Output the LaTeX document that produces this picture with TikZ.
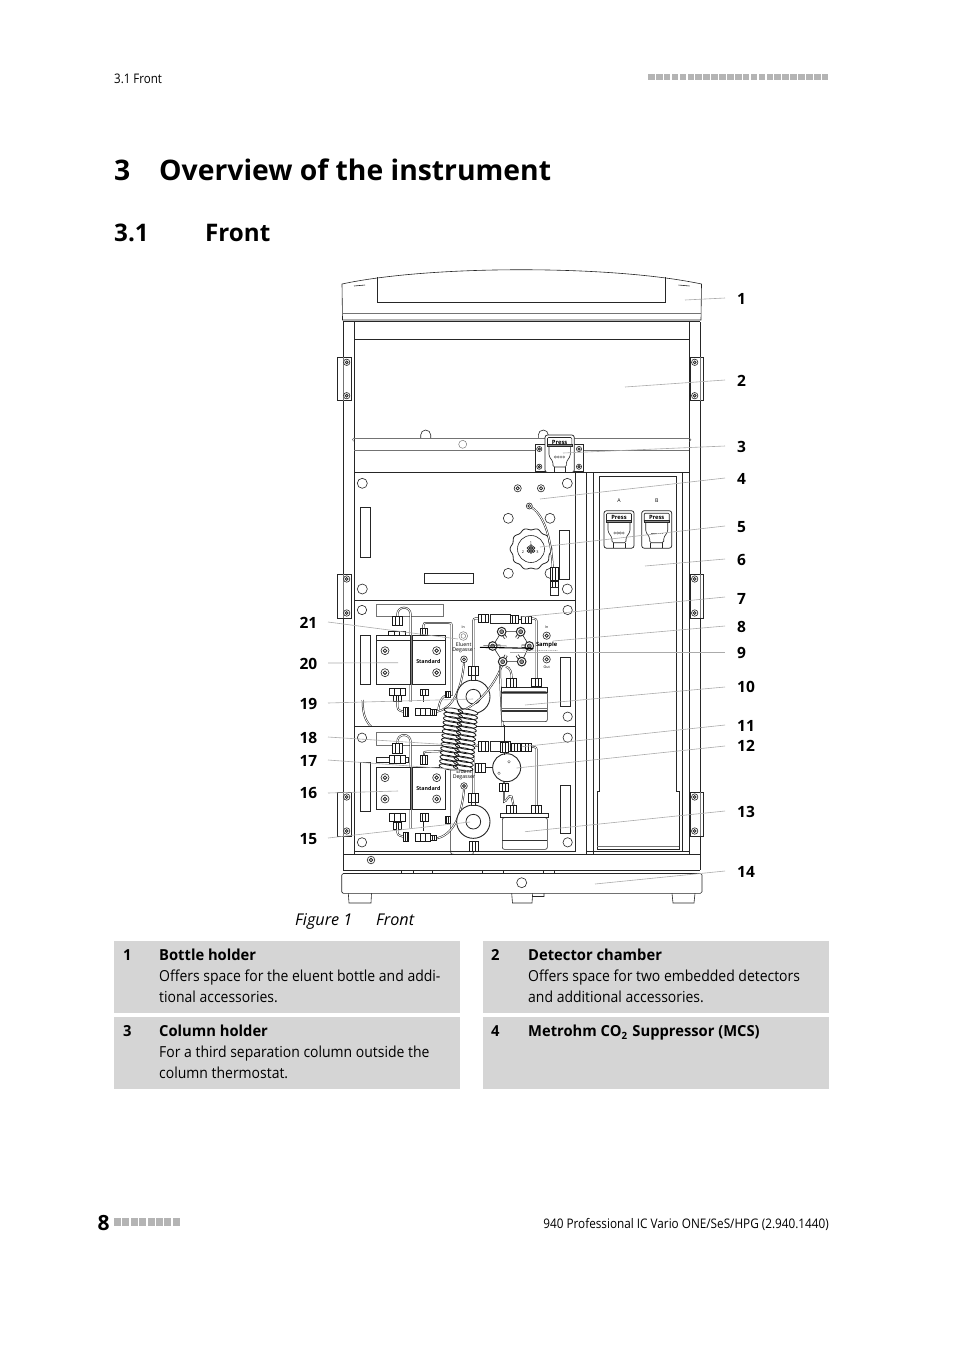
\documentclass[tikz,border=0pt]{standalone}
\usepackage{fontspec}
\setmainfont{Open Sans}
\newfontfamily\narrowf[FakeStretch=0.875]{Open Sans}
\newfontfamily\footf[FakeStretch=0.89]{Open Sans}
\newfontfamily\bodyf[FakeStretch=0.92]{Open Sans}
\newfontfamily\headf[FakeStretch=0.97]{Open Sans}
\usetikzlibrary{calc}
\definecolor{boxgray}{HTML}{D5D5D5}
\definecolor{sqgray}{HTML}{B4B4B4}
\definecolor{leadgray}{HTML}{ABABAB}
\tikzset{
  ln/.style={draw=black!85,line width=.6pt},
  thin ln/.style={draw=black!55,line width=.45pt},
  wln/.style={draw=black!85,line width=.6pt,fill=white},
  tube/.style={draw=black!90,line width=.5pt,double=white,double distance=.9pt},
  fitting/.style={draw=black!90,line width=.7pt,fill=white},
  leader/.style={draw=leadgray,line width=.6pt},
  txt/.style={inner sep=0pt,anchor=base west,text=black},
  callout/.style={inner sep=0pt,anchor=base west,font=\fontsize{15.5}{18}\selectfont\bfseries},
  calloutl/.style={inner sep=0pt,anchor=base east,font=\fontsize{15.5}{18}\selectfont\bfseries},
  tiny lbl/.style={inner sep=0pt,font=\fontsize{5.2}{6}\selectfont},
  tiny blbl/.style={inner sep=0pt,font=\fontsize{5.8}{6}\selectfont\bfseries},
}
\newcommand\ftg[4]{\draw[fitting] (#1,#2) rectangle (#3,#4)
  ($(#1,#2)!.33!(#3,#2)$) -- ($(#1,#4)!.33!(#3,#4)$)
  ($(#1,#2)!.67!(#3,#2)$) -- ($(#1,#4)!.67!(#3,#4)$);}
\newcommand\scw[3]{\draw[wln] (#1,#2) circle (#3); \draw[wln,line width=.8pt] (#1,#2) circle (#3*.45);}
\newcommand\hle[1]{\draw[wln] #1 circle (14);}
\newcommand\lead[5]{% id, start x,y, end x,y
  \coordinate (s#1) at (#2,#3); \coordinate (e#1) at (#4,#5); \draw[leader] (s#1) -- (e#1);}
\newcommand\pressbox[3]{% x y w
  \draw[wln,line width=.75pt,rounded corners=2.5pt] (#1,#2) rectangle ++(#3,37.5);
  \draw[ln,rounded corners=1pt] (#1+2.5,#2+2.5) rectangle ++(#3-5,9);
  \draw[ln,fill=black!45] (#1+2.5,#2+9.5) rectangle ++(#3-5,2);
  \draw[ln,rounded corners=1.5pt] (#1+4,#2+12) -- (#1+4,#2+21) -- (#1+8,#2+27) -- (#1+8,#2+32) -- (#1+#3-8,#2+32) -- (#1+#3-8,#2+27) -- (#1+#3-4,#2+21) -- (#1+#3-4,#2+12);
  \draw[ln] (#1+9,#2+32) -- (#1+9,#2+37.5) (#1+#3-9,#2+32) -- (#1+#3-9,#2+37.5);}
\newcommand\pressdots[2]{\foreach \d in {-4.2,-1.4,1.4,4.2} \draw[thin ln] (#1+\d,#2) circle (1.1);}
\begin{document}
\begin{tikzpicture}[x=1pt,y=-1pt]
\useasboundingbox (0,0) rectangle (954,1350);
\fill[white] (0,0) rectangle (954,1350);

% ---------- page furniture
\node[txt,font=\narrowf\fontsize{13.2}{15}\selectfont] (hdr) at (114,83) {3.1 Front};
\foreach \i in {0,...,22} \fill[sqgray] (648+\i*7.9,73.5) rectangle ++(6.6,6.4);
\node[txt,font=\fontsize{28.3}{34}\selectfont\bfseries] (ttlnum) at (114,180) {3};
\node[txt,font=\fontsize{28.3}{34}\selectfont\bfseries] (ttl) at (159,180) {Overview of the instrument};
\node[txt,font=\fontsize{24.2}{28}\selectfont\bfseries] (secnum) at (114,241) {3.1};
\node[txt,font=\fontsize{24.2}{28}\selectfont\bfseries] (sec) at (205,241) {Front};

% ---------- bottle holder
\draw[wln] (342,284) .. controls (430,265) and (612,265) .. (701.5,284) -- (701,320) -- (342.5,320) -- cycle;
\draw[ln] (377.7,277) -- (377.7,302.3) -- (665.7,302.3) -- (665.7,277);
\draw[thin ln] (342.5,313) -- (701,313);
\draw[ln] (354,286) -- (365,285) (678.5,285) -- (689.5,286);
\draw[ln,line width=1pt] (343,321) -- (700,321);

% ---------- cabinet
\draw[ln] (343.3,322) -- (343.3,870) (354,322) -- (354,854) (689.3,322) -- (689.3,854) (700,322) -- (700,870);
\draw[ln] (354,339) -- (689.3,339);
\draw[ln] (420.7,438) -- (420.7,435) arc (180:360:5) -- (430.7,438);
\draw[ln] (538.3,438) -- (538.3,435) arc (180:360:5) -- (548.3,438);
\draw[thin ln] (354,438) -- (689.3,438) (354,450) -- (689.3,450);
\draw[ln] (354,472.7) -- (689.3,472.7);
\draw[thin ln] (462.7,444.3) circle (4);
\draw[thin ln] (354,438) arc (270:90:1.7) (689.3,438) arc (270:450:1.7);

% hinges
\foreach \yt/\yb in {357.3/400.7,574/618,792/836}{
  \draw[wln] (337.3,\yt) rectangle (351.7,\yb);
  \draw[thin ln] (343.3,\yt) -- (343.3,\yb);
  \draw[wln] (690.7,\yt) rectangle (703,\yb);
  \draw[thin ln] (700,\yt) -- (700,\yb);
  \scw{346.7}{\yt+5}{3.2}
  \scw{346.7}{\yb-5}{3.2}
  \scw{694.7}{\yt+5}{3.2}
  \scw{694.7}{\yb-5}{3.2}
}

% column holder
\draw[wln] (535,444) rectangle (583.3,471.7);
\scw{539.3}{449}{2.6}\scw{539.3}{466.7}{2.6}\scw{579}{449}{2.6}\scw{579}{466.7}{2.6}
\pressbox{545}{435}{29.3}
\node[tiny blbl] (press0) at (559.6,442) {Press};
\pressdots{559.6}{457}

% ---------- right chamber
\draw[ln] (586.7,472.7) -- (586.7,854) (593.3,472.7) -- (593.3,854);
\draw[ln] (599.3,476.7) -- (599.3,791.7) -- (597.3,791.7) -- (597.3,849) -- (679,849) -- (679,791.7) -- (676.7,791.7) -- (676.7,476.7) -- cycle;
\draw[ln] (682.3,472.7) -- (682.3,852);
\draw[thin ln] (597.3,846) -- (679,846);
\draw[ln] (586.7,851.7) -- (689.3,851.7);
\node[tiny lbl] (lblA) at (619,500.7) {A};
\node[tiny lbl] (lblB) at (656.7,500.7) {B};
\pressbox{604}{510.7}{30}
\node[tiny blbl] (pressA) at (619,517.7) {Press};
\pressdots{619}{533}
\pressbox{641.7}{510.7}{30}
\node[tiny blbl] (pressB) at (656.7,517.7) {Press};
\draw[thin ln,dash pattern=on 1.5pt off .7pt] (651,533) -- (663,533);

% ---------- MCS panel
\draw[wln] (354,472.7) rectangle (575,600);
\foreach \p in {(362.3,483.3),(567.3,483.3),(362.3,589),(567.3,589),(508.3,518.3),(550,518.3),(508.3,573.3),(550,573.3)}
  \draw[wln] \p circle (5);
\draw[wln] (360.7,507.3) rectangle (370.7,557.3);
\draw[wln] (424,573.3) rectangle (473.3,583.3);
\draw[wln] (559.3,530.7) rectangle (569.3,579.3);
\scw{517.7}{488.3}{3.6}\scw{541}{488.3}{3.6}
\draw[wln,line width=.8pt,domain=0:360,samples=145,smooth] plot ({531+(20+.9*cos(10*\x))*cos(\x)},{549+(20+.9*cos(10*\x))*sin(\x)});
\draw[ln] (531,549) circle (13.5);
\foreach \dx/\dy in {0/0,-2.5/-1,2.5/-1,0/-3,-2.5/2,2.5/2,0/3}
  \draw[ln] (531+\dx,549+\dy) circle (1.4);
\node[tiny lbl,font=\fontsize{3.8}{4}\selectfont] (k1) at (531,543) {1};
\node[tiny lbl,font=\fontsize{3.8}{4}\selectfont] (k2) at (523,552) {2};
\node[tiny lbl,font=\fontsize{3.8}{4}\selectfont] (k3) at (537.5,552) {3};
\draw[tube] (529.3,506) .. controls (543,513) and (551,535) .. (552.7,567);
\draw[wln] (529.3,506) circle (3);
\draw[ln] (529.3,506) circle (1.4);
\ftg{550}{567}{558}{580}
\ftg{550}{581}{558}{587}
\draw[wln] (550,587) rectangle (558,595);

% ---------- upper panel (reference-crop coordinates)
\begin{scope}[shift={(340,595)},scale=1/3]
\draw[wln] (42,15) rectangle (705,395);
\hle{(66,45)}\hle{(683,45)}\hle{(683,365)}
\draw[thin ln] (110,28) rectangle (310,65);
\draw[wln] (62,120) rectangle (92,267);
\draw[wln] (660,187) rectangle (690,335);
\draw[tube] (172,70) -- (172,58) arc (180:360:20) -- (212,320);
\draw[tube] (250,105) -- (250,92) .. controls (252,84) .. (262,84) -- (322,84) .. controls (335,84) .. (335,96) -- (335,300) .. controls (325,300) and (300,295) .. (295,345);
\draw[wln] (110,120) rectangle (210,135);
\draw[wln] (217,120) rectangle (315,135);
\draw[wln] (110,135) rectangle (210,267);
\draw[wln] (217,135) rectangle (315,267);
\scw{135}{167}{12}\scw{135}{233}{12}\scw{290}{167}{12}\scw{290}{233}{12}
\node[tiny blbl,font=\fontsize{5.3}{6}\selectfont\bfseries] (std1) at (265,200) {Standard};
\ftg{158}{65}{186}{90}
\ftg{146}{108}{196}{122}
\ftg{240}{100}{263}{122}
\ftg{148}{280}{196}{300}
\ftg{160}{300}{184}{320}
\ftg{240}{282}{265}{300}
\draw[ln] (250,300) -- (250,320);
\draw[tube] (172,320) .. controls (172,345) .. (190,350);
\draw[tube] (290,350) .. controls (340,340) and (365,280) .. (372,205);
\ftg{190}{336}{206}{365}
\ftg{225}{340}{270}{362}
\ftg{270}{342}{290}{360}
\ftg{315}{290}{330}{308}
% degasser labels
\node[tiny lbl,font=\fontsize{3.6}{4}\selectfont] (in1) at (370,97) {In};
\draw[thin ln] (370,123) circle (13); \draw[thin ln] (370,123) circle (7);
\node[tiny lbl] (el1) at (371,150) {Eluent};
\node[tiny lbl] (de1) at (371,167) {Degasser};
\scw{372}{193}{10}
% loop tube to fitting
\draw[tube] (400,215) -- (400,85) .. controls (400,70) .. (415,70);
\draw[tube] (575,70) .. controls (590,72) .. (590,88) -- (590,250);
\ftg{415}{57}{445}{83}
\draw[wln] (450,58) rectangle (510,85);
\ftg{510}{60}{535}{85}
\ftg{545}{65}{575}{85}
\draw[ln] (535,72) -- (545,72);
% ring
\draw[wln,line width=.9pt] (400,305) circle (50);
\draw[ln,line width=.8pt] (400,305) circle (22);
\ftg{385}{215}{415}{240}
\draw[wln] (393,240) rectangle (407,255);
% valve
\draw[tube] (488,205) .. controls (470,260) and (420,330) .. (355,352);
\draw[tube] (480,212) .. controls (482,320) and (487,380) .. (492,445);
\draw[tube] (498,215) .. controls (512,218) and (515,235) .. (515,250);
\draw[wln] (485,110) -- (542,110) -- (568,153) -- (545,200) -- (488,200) -- (458,153) -- cycle;
\foreach \px/\py in {485/110,542/110,458/153,568/153,488/200,545/200}{
  \draw[draw=black!85,line width=3.2pt] (\px,\py) -- ($(\px,\py)!.42!(513,155)$);
  \draw[draw=white,line width=1.6pt] (\px,\py) -- ($(\px,\py)!.42!(513,155)$);
  \draw[wln,line width=1pt] (\px,\py) circle (13);
  \draw[ln,fill=black!45] (\px,\py) circle (6);}
\draw[line width=1.1pt,black] (420,157) -- (580,160);
\draw[line width=.5pt,black!70] (430,151) -- (500,153);
\draw[thin ln,dash pattern=on 1pt off .8pt] (548,165) -- (652,167);
\node[tiny lbl,font=\fontsize{3.6}{4}\selectfont] (in2) at (620,97) {In};
\scw{620}{122}{11}
\node[tiny blbl] (samp) at (620,150) {Sample};
\scw{620}{193}{11}
\node[tiny lbl,font=\fontsize{3.6}{4}\selectfont] (out) at (620,218) {Out};
% bottle
\draw[wln,rounded corners=2] (485,290) rectangle (622,380);
\draw[ln] (485,278) rectangle (622,291);
\draw[line width=1.2pt,black!80] (487,348) -- (620,348);
\draw[thin ln] (487,296) -- (620,296) (487,340) -- (620,340);
\ftg{500}{250}{530}{278}
\ftg{575}{250}{605}{275}
\draw[tube] (68,315) .. controls (68,360) and (75,395) .. (132,420);
\end{scope}

% ---------- lower panel (reference-crop coordinates)
\begin{scope}[shift={(340,725)},scale=1/3]
\draw[wln] (42,5) rectangle (705,380);
\hle{(66,38)}\hle{(683,38)}\hle{(66,352)}\hle{(683,352)}
\draw[thin ln] (110,22) rectangle (310,60);
\draw[wln] (62,113) rectangle (92,258);
\draw[wln] (660,180) rectangle (690,325);
\draw[tube] (172,60) -- (172,50) arc (180:360:20) -- (212,310);
\draw[ln] (250,290) -- (250,318);
\draw[wln] (110,98) rectangle (205,112);
\draw[tube] (252,90) .. controls (252,80) .. (262,80) -- (320,78) .. controls (332,78) .. (332,90);
\draw[ln] (332,90) -- (332,372) .. controls (332,388) .. (345,388) -- (390,388) .. controls (400,388) .. (400,378);
\draw[tube] (400,205) -- (400,75) .. controls (400,62) .. (415,62);
\draw[tube] (575,65) .. controls (590,67) .. (590,82) -- (590,240);
\draw[wln] (110,127) rectangle (210,253);
\draw[wln] (217,127) rectangle (315,253);
\scw{135}{158}{12}\scw{135}{222}{12}\scw{290}{158}{12}\scw{290}{222}{12}
\node[tiny blbl,font=\fontsize{5.3}{6}\selectfont\bfseries] (std2) at (265,192) {Standard};
\ftg{158}{55}{186}{85}
\ftg{148}{90}{196}{115}
\ftg{240}{92}{263}{118}
\ftg{148}{265}{196}{290}
\ftg{160}{292}{184}{312}
\ftg{240}{265}{265}{290}
\draw[tube] (172,312) .. controls (172,330) .. (190,335);
\draw[tube] (290,340) .. controls (340,330) and (365,270) .. (372,195);
\ftg{190}{322}{206}{350}
\ftg{225}{325}{270}{350}
\ftg{270}{330}{290}{345}
\ftg{315}{275}{330}{295}
\node[tiny lbl] (de2) at (372,158) {Degasser};
\node[tiny lbl] (el2) at (372,141) {Eluent};
\scw{372}{183}{10}
\ftg{415}{50}{445}{80}
\draw[wln] (450,50) rectangle (510,80);
\ftg{480}{53}{505}{82}
\ftg{515}{55}{540}{80}
\ftg{545}{55}{575}{80}
\draw[ln] (540,67) -- (545,67);
\draw[ln] (492,0) -- (492,53);
\draw[tube] (492,170) -- (492,230) .. controls (500,232) and (505,205) .. (515,215) -- (520,240);
\draw[wln,line width=.9pt] (400,290) circle (50);
\draw[ln,line width=.8pt] (400,290) circle (22);
\ftg{385}{205}{415}{232}
\draw[wln] (393,232) rectangle (407,242);
\ftg{388}{350}{415}{378}
\draw[wln,line width=.9pt] (500,128) circle (42);
\draw[ln] (492,82) -- (492,90);
\ftg{405}{115}{435}{142}
\draw[ln] (435,128) -- (458,128);
\ftg{478}{175}{505}{200}
\draw[thin ln] (507,110) circle (4) (477,145) circle (4);
\draw[wln,rounded corners=2] (487,278) rectangle (622,373);
\draw[ln] (480,265) rectangle (625,278);
\draw[line width=1.2pt,black!80] (487,347) -- (620,347);
\ftg{500}{240}{530}{265}
\ftg{575}{240}{605}{265}
\end{scope}

% ---------- bottom of cabinet and base
\draw[ln] (343.3,854) -- (700,854);
\scw{371}{860}{3.8}
\draw[ln] (343.3,870) -- (700,870);
\draw[wln,rounded corners=1.5pt] (341.7,873.5) rectangle (702,893.3);
\draw[ln] (401.7,870) -- (401.7,873.5) (413,870) -- (413,873.5) (432.7,870) -- (432.7,873.5) (482.7,870) -- (482.7,873.5) (503,870) -- (503,873.5) (543,870) -- (543,873.5) (554,870) -- (554,873.5);
\draw[wln] (521.7,882.7) circle (5);
\draw[ln] (348.3,893.3) -- (349,903) -- (371,903) -- (371.5,893.3);
\draw[ln] (511.7,893.3) -- (512.5,903) -- (532,903) -- (532.7,893.3) (532.7,896.5) -- (544,896.5) -- (544,893.3);
\draw[ln] (672,893.3) -- (673,903) -- (694,903) -- (695,893.3);

% ---------- coil: two interleaved columns of turns
\fill[white] (445,709) -- (478,710) -- (473,770) -- (440,770) -- cycle;
\foreach \n in {0,...,13}{
  \pgfmathsetmacro\cy{711+\n*4.3}
  \pgfmathsetmacro\xa{453.5-\n*.38}
  \pgfmathsetmacro\xb{468-\n*.38}
  \draw[line width=.8pt,black!90,rotate around={-10:(\xa,\cy)}] (\xa,\cy) ellipse (9.5 and 2.7);
  \draw[line width=.8pt,black!90,rotate around={-10:(\xb,\cy+1)}] (\xb,\cy+1) ellipse (10 and 2.7);
}

% ---------- leaders
\lead{1}{685}{300}{725}{298}
\lead{2}{625}{387}{725}{380}
\lead{3}{563}{453}{725}{446}
\lead{4}{540}{499}{725}{478}
\lead{5}{540}{547}{725}{526}
\lead{6}{645}{566}{725}{559}
\lead{7}{520}{617}{725}{597}
\lead{8}{553}{641}{725}{626}
\lead{9}{510}{652}{725}{652}
\lead{10}{525}{705}{725}{687}
\lead{11}{521.7}{746.7}{725}{725}
\lead{12}{516.7}{768}{725}{746}
\lead{13}{525}{831.7}{725}{811}
\lead{14}{595}{884}{725}{871}
\lead{15}{470}{822}{328}{838}
\lead{16}{398}{791}{328}{793}
\lead{17}{465}{770}{328}{760}
\lead{18}{453}{745}{328}{737}
\lead{19}{473}{699}{328}{703}
\lead{20}{398}{662.7}{328}{663}
\lead{21}{458}{639}{328}{622}

% ---------- callouts
\foreach \n/\y in {1/304,2/386,3/452,4/484,5/532,6/565,7/604,8/632,9/658,10/692,11/731,12/751,13/817,14/877}
  \node[callout] (c\n) at (737,\y) {\n};
\foreach \n/\y in {21/628,20/669,19/709,18/743,17/766,16/798,15/844}
  \node[calloutl] (c\n) at (317.5,\y) {\n};

% ---------- caption
\node[txt,font=\fontsize{16.2}{19}\selectfont\itshape] (figno) at (295,925) {Figure 1};
\node[txt,font=\fontsize{16.2}{19}\selectfont\itshape] (figcap) at (376,925) {Front};

% ---------- table
\fill[boxgray] (114,941) rectangle (460,1013);
\fill[boxgray] (483,941) rectangle (829,1013);
\fill[boxgray] (114,1017) rectangle (460,1089);
\fill[boxgray] (483,1017) rectangle (829,1089);
\tikzset{tb/.style={txt,font=\bodyf\fontsize{15.2}{18}\selectfont},tbb/.style={txt,font=\headf\fontsize{15.2}{18}\selectfont\bfseries}}
\node[tbb] (n1) at (123,960) {1};
\node[tbb] (h1) at (159,960) {Bottle holder};
\node[tb] (l1a) at (159,981) {Offers space for the eluent bottle and addi-};
\node[tb] (l1b) at (159,1002) {tional accessories.};
\node[tbb] (n2) at (491,960) {2};
\node[tbb] (h2) at (528,960) {Detector chamber};
\node[tb] (l2a) at (528,981) {Offers space for two embedded detectors};
\node[tb] (l2b) at (528,1002) {and additional accessories.};
\node[tbb] (n3) at (123,1036) {3};
\node[tbb] (h3) at (159,1036) {Column holder};
\node[tb] (l3a) at (159,1057) {For a third separation column outside the};
\node[tb] (l3b) at (159,1078) {column thermostat.};
\node[tbb] (n4) at (491,1036) {4};
\node[tbb] (h4) at (528,1036) {Metrohm CO\raisebox{-3pt}{\fontsize{10}{12}\selectfont 2}\hspace{1.5pt} Suppressor (MCS)\hspace{0pt}};

% ---------- footer
\node[txt,font=\fontsize{21}{26}\selectfont\bfseries] (pg) at (97.5,1230) {8};
\foreach \i in {0,...,7} \fill[sqgray] (114+\i*8.4,1218.3) rectangle ++(6.9,7.2);
\node[inner sep=0pt,anchor=base east,font=\footf\fontsize{13.2}{15}\selectfont] (ftr) at (829,1228) {940 Professional IC Vario ONE/SeS/HPG (2.940.1440)};
\end{tikzpicture}
\end{document}
